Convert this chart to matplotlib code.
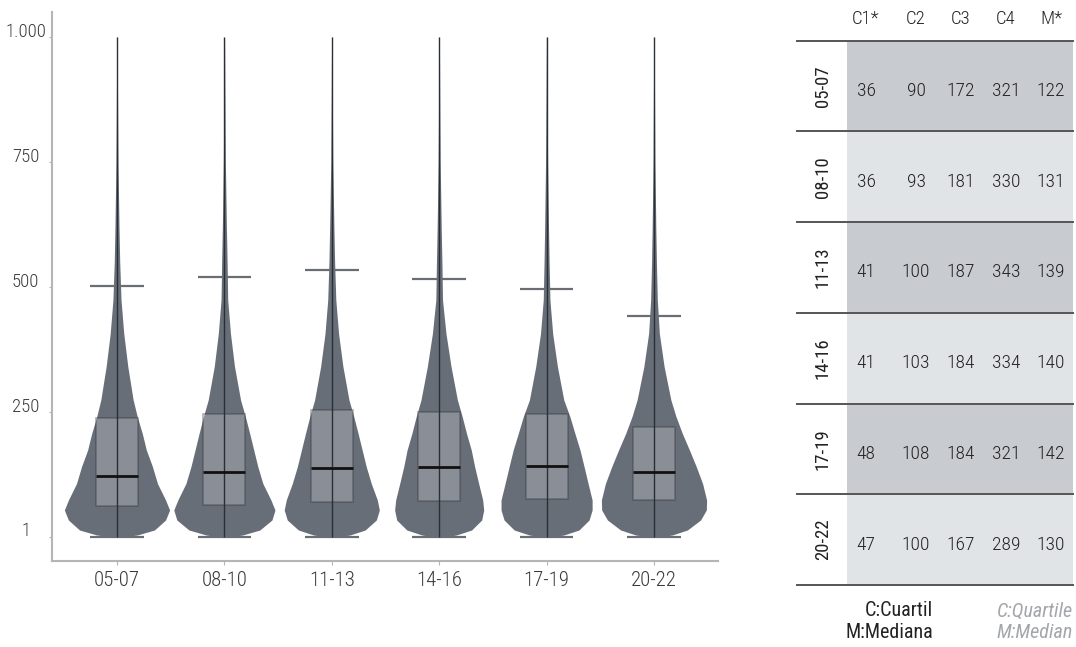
import numpy as np
import matplotlib.pyplot as plt
from matplotlib.patches import Rectangle

# groups (hour ranges)
groups = ['05-07', '08-10', '11-13', '14-16', '17-19', '20-22']

# box / whisker values
box_low = [62, 64, 70, 72, 77, 74]
box_high = [239, 247, 255, 250, 246, 221]
medians = [122, 131, 139, 140, 142, 130]
cap_top = [502, 520, 534, 516, 496, 442]
cap_bottom = [1, 1, 1, 1, 1, 1]
line_top = [1000, 1000, 1000, 1000, 1000, 1000]

# violin outline: density (relative half-width) at each value level
levels = [1, 4, 14, 34, 54, 74, 107, 141, 174, 207, 241, 274, 341, 407, 474, 550, 620, 750, 900, 1000]
density = {
    '05-07': [8, 20, 37, 48, 52, 48, 40, 35, 29, 25, 20, 16, 10.7, 6.7, 4, 2.7, 2.0, 1.0, 0.5, 0.2],
    '08-10': [8, 18, 35, 47, 50, 46, 38, 33, 29, 25, 20.7, 16, 10, 6, 3.3, 2.7, 2.0, 1.0, 0.5, 0.2],
    '11-13': [8, 18, 33, 44, 47, 45, 39, 34, 30, 26, 21.7, 17, 11, 6.7, 4, 2.8, 2.1, 1.0, 0.5, 0.2],
    '14-16': [8, 17, 32, 42, 44, 43, 39, 35, 31.7, 27, 22.7, 18, 11.7, 6.7, 3.3, 2.7, 2.0, 1.0, 0.5, 0.2],
    '17-19': [8, 17, 32, 42, 45, 45, 41, 37, 33, 28, 23, 17, 10.7, 6, 3.3, 2.5, 1.9, 1.0, 0.5, 0.2],
    '20-22': [8, 18, 33, 46, 51.7, 52, 48, 41.7, 35, 28, 21.7, 16.7, 10, 5.3, 3.3, 2.4, 1.8, 0.9, 0.5, 0.2],
}

yticks = [1, 250, 500, 750, 1000]
ytick_labels = ['1', '250', '500', '750', '1.000']

# summary table
tab_cols = ['C1*', 'C2', 'C3', 'C4', 'M*']
c1 = [36, 36, 41, 41, 48, 47]
c2 = [90, 93, 100, 103, 108, 100]
c3 = [172, 181, 187, 184, 184, 167]
c4 = [321, 330, 343, 334, 321, 289]
m = [122, 131, 139, 140, 142, 130]

plt.rcParams['font.family'] = ['Roboto Condensed', 'DejaVu Sans']

violin_col = '#686e78'
txt_col = '#3a3a3a'

fig = plt.figure(figsize=(10.76, 6.47), dpi=100)

# full-figure axes for the table (pixel coords)
tab = fig.add_axes([0, 0, 1, 1], zorder=0)
tab.set_xlim(0, 1076)
tab.set_ylim(647, 0)
tab.axis('off')

ax = fig.add_axes([52 / 1076, 1 - 561 / 647, (718 - 52) / 1076, (561 - 12) / 647], zorder=1)
ax.set_facecolor('none')

pos = np.arange(len(groups))
dmax = max(max(v) for v in density.values())
lv = np.array(levels)
for i, g in enumerate(groups):
    half = np.array(density[g]) / dmax * 0.49
    ax.fill_betweenx(lv, i - half, i + half, color=violin_col, lw=0, zorder=1)
    ax.vlines(i, cap_bottom[i], line_top[i], color='#2a2e35', lw=1, zorder=4)
    ax.hlines([cap_bottom[i], cap_top[i]], i - 0.25, i + 0.25, color='#6a6e74', lw=1.6, zorder=2)
    ax.add_patch(Rectangle((i - 0.195, box_low[i]), 0.39, box_high[i] - box_low[i],
                           facecolor=(1, 1, 1, 0.23), edgecolor=(0.2, 0.2, 0.22, 0.4), lw=1.2, zorder=3))
    ax.hlines(medians[i], i - 0.195, i + 0.195, color='#111111', lw=2, zorder=5)

ax.set_xlim(-0.605, 5.596)
ax.set_ylim(-48, 1050)
ax.set_xticks(pos, groups)
ax.set_yticks(yticks, ytick_labels)
for s in ['top', 'right']:
    ax.spines[s].set_visible(False)
for s in ['left', 'bottom']:
    ax.spines[s].set_color('#b5b5b5')
    ax.spines[s].set_linewidth(1.5)
ax.tick_params(axis='x', length=3, color='#b5b5b5', labelsize=15, labelcolor=txt_col, pad=4)
ax.tick_params(axis='y', length=2, color='#b5b5b5', labelsize=13.5, labelcolor=txt_col, pad=17)
for lab in ax.get_xticklabels() + ax.get_yticklabels():
    lab.set_fontweight(300)
for lab in ax.get_yticklabels():
    lab.set_horizontalalignment('center')
    lab.set_verticalalignment('baseline')

# table
row_top = 40.7
row_h = 90.7
col_x = [866, 916, 961, 1006, 1051]
for j, c in enumerate(tab_cols):
    tab.text(col_x[j], 19, c, ha='center', va='center', fontsize=13.5, color='#222222', fontweight=300)
rows = list(zip(c1, c2, c3, c4, m))
for r, g in enumerate(groups):
    y0 = row_top + r * row_h
    shade = '#c8cbcf' if r % 2 == 0 else '#e1e4e7'
    tab.add_patch(Rectangle((847, y0), 1073 - 847, row_h, facecolor=shade, edgecolor='none'))
    tab.text(823, y0 + row_h / 2, g, rotation=90, ha='center', va='center', fontsize=13.5, color='#222222')
    for j, v in enumerate(rows[r]):
        tab.text(col_x[j], y0 + row_h / 2 + 5, str(v), ha='center', va='center', fontsize=14,
                 color='#222222', fontweight=300)
for r in range(len(groups) + 1):
    y = row_top + r * row_h
    tab.plot([797, 1073], [y, y], color='#555555', lw=1.4)

tab.text(933, 611, 'C:Cuartil', ha='right', va='center', fontsize=14.5, color='#222222')
tab.text(933, 632, 'M:Mediana', ha='right', va='center', fontsize=14.5, color='#222222')
tab.text(1073, 611, 'C:Quartile', ha='right', va='center', fontsize=14.5, color='#a3a6aa', style='italic')
tab.text(1073, 632, 'M:Median', ha='right', va='center', fontsize=14.5, color='#a3a6aa', style='italic')

fig.savefig('out.png', dpi=100)
